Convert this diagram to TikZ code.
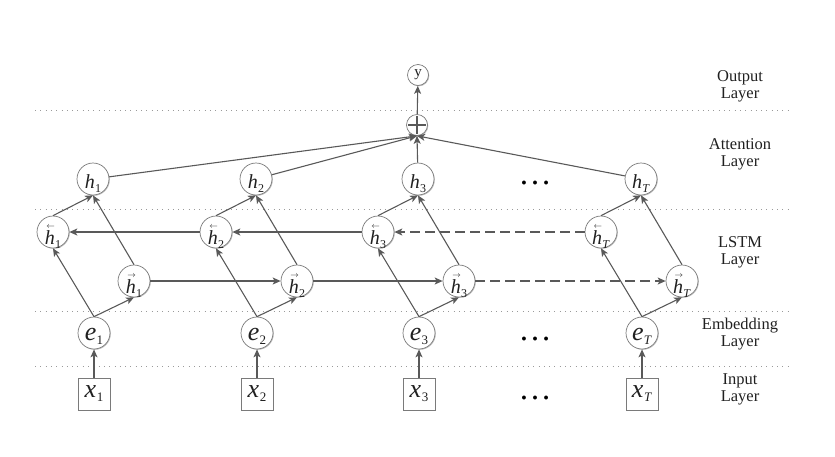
\documentclass[tikz,border=0pt]{standalone}
\usepackage{fontspec}
\setmainfont{Liberation Serif}
\usetikzlibrary{arrows.meta,shadows}
\definecolor{linec}{HTML}{595959}
\definecolor{nodec}{HTML}{7A7A7A}
\definecolor{sepc}{HTML}{9A9A9A}
\definecolor{txtc}{HTML}{202020}
\newcommand{\hh}[1]{{\fontsize{20}{20}\selectfont\itshape h}\kern0.3pt\raisebox{-4pt}{\fontsize{12}{12}\selectfont #1}}
\newcommand{\hd}[2]{\makebox[0pt][l]{\raisebox{16pt}{\kern1.5pt\fontsize{8}{8}\selectfont$#1$}}\hh{#2}}
\newcommand{\ee}[1]{{\fontsize{26}{26}\selectfont\itshape e}\raisebox{-4pt}{\fontsize{13}{13}\selectfont #1}}
\newcommand{\xx}[1]{{\fontsize{26}{26}\selectfont\itshape x}\kern0.5pt\raisebox{-4pt}{\fontsize{13}{13}\selectfont #1}}
\newcommand{\TT}{\textit{T}}
\tikzset{
  conn/.style={draw=linec, line width=1.1pt, -{Stealth[length=8pt,width=7pt,inset=2pt]}},
  dconn/.style={conn, dash pattern=on 10pt off 5pt},
  sepline/.style={draw=sepc, line width=0.8pt, dash pattern=on 0.8pt off 4.5pt},
  shad/.style={drop shadow={shadow xshift=0.8pt, shadow yshift=-0.8pt, opacity=0.25, fill=black}},
  neuron/.style={circle, draw=nodec, line width=0.7pt, fill=white, minimum size=32pt, inner sep=0pt, text=txtc, shad},
  hnode/.style={neuron, text height=18pt, text depth=0pt},
  dnode/.style={neuron, text height=24pt, text depth=0pt},
  enode/.style={neuron, text height=14pt, text depth=0pt},
  xnode/.style={rectangle, draw=nodec, line width=0.7pt, fill=white, minimum width=32pt, minimum height=32pt, inner sep=0pt, text height=6pt, text depth=0pt, text=txtc},
  small/.style={circle, draw=nodec, line width=0.7pt, fill=white, minimum size=21pt, inner sep=0pt, text=txtc, shad},
  layerlbl/.style={align=center, font=\fontsize{16.5}{17}\selectfont, text=txtc},
  dotsn/.style={anchor=base, font=\fontsize{33}{33}\selectfont, text=black, inner sep=0pt}
}
\begin{document}
\begin{tikzpicture}[x=1pt,y=-1pt]
\useasboundingbox (0,0) rectangle (835,456);
% separators
\draw[sepline] (35,110) -- (790,110);
\draw[sepline] (35,209) -- (790,209);
\draw[sepline] (35,311) -- (790,311);
\draw[sepline] (35,366) -- (790,366);
% layer labels
\node[layerlbl] (lo) at (740,86) {Output\\Layer};
\node[layerlbl] (la) at (740,154) {Attention\\Layer};
\node[layerlbl] (ll) at (740,252) {LSTM\\Layer};
\node[layerlbl] (le) at (740,334) {Embedding\\Layer};
\node[layerlbl] (li) at (740,389) {Input\\Layer};
% top
\node[small, font=\fontsize{15}{15}\selectfont] (y) at (418,75) {y};
\node[small, path picture={\draw[linec, line width=1.2pt] ([yshift=-1.5pt]path picture bounding box.north) -- ([yshift=1.5pt]path picture bounding box.south) ([xshift=1.5pt]path picture bounding box.west) -- ([xshift=-1.5pt]path picture bounding box.east);}] (plus) at (417,125) {};
% columns
\foreach \i/\cx/\lab in {1/93/1, 2/256/2, 3/418/3, T/641/\TT}{
  \node[hnode] (h\i) at (\cx,179) {\hh{\lab}};
  \node[dnode] (hb\i) at (\cx-40,232) {\hd{\leftarrow}{\lab}};
  \node[dnode] (hf\i) at (\cx+41,281) {\hd{\rightarrow}{\lab}};
  \node[enode] (e\i) at (\cx+1,333) {\ee{\lab}};
  \node[xnode] (x\i) at (\cx+1,394) {\xx{\lab}};
  \draw[conn] (x\i) -- (e\i);
  \draw[conn] (e\i.north) -- (hf\i.south);
  \draw[conn] (e\i.north) -- (hb\i.south);
  \draw[conn] (hf\i.north) -- (h\i.south);
  \draw[conn] (hb\i.north) -- (h\i.south);
  \draw[conn] (h\i) -- (plus.south);
}
\draw[conn] (plus) -- (y);
% recurrent connections
\draw[conn] (hf1) -- (hf2);
\draw[conn] (hf2) -- (hf3);
\draw[dconn] (hf3) -- (hfT);
\draw[conn] (hb2) -- (hb1);
\draw[conn] (hb3) -- (hb2);
\draw[dconn] (hbT) -- (hb3);
% ellipses
\node[dotsn] (d1) at (535,184) {…};
\node[dotsn] (d2) at (535,340) {…};
\node[dotsn] (d3) at (535,399) {…};
\end{tikzpicture}
\end{document}
